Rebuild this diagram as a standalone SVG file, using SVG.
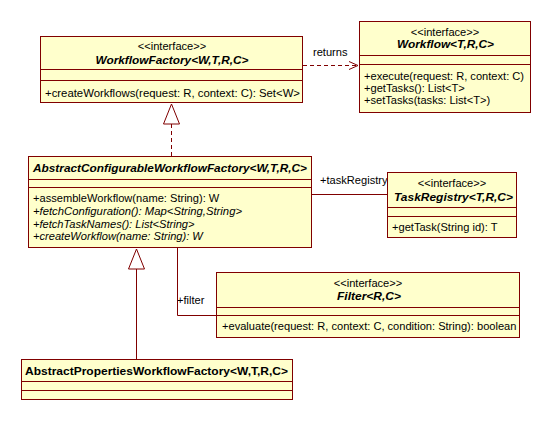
<svg xmlns="http://www.w3.org/2000/svg" width="552" height="421" viewBox="0 0 552 421">
<defs>
<style>
.box{fill:#FFFFCC;stroke:#800000;stroke-width:1}
.sep{stroke:#800000;stroke-width:1}
text{font-family:"Liberation Sans",Arial,sans-serif;font-size:11.1px;fill:#000}
.c{text-anchor:middle}
.t{font-weight:bold;font-style:italic;font-size:11.5px}
.b{font-weight:bold;font-size:11.5px}
.i{font-style:italic}
.ln{fill:none;stroke:#800000;stroke-width:1}
.dash{stroke-dasharray:4,3}
</style>
<marker id="open" markerWidth="12" markerHeight="10" refX="10" refY="5" orient="auto" markerUnits="userSpaceOnUse">
<path d="M1,1 L10,5 L1,9" fill="none" stroke="#800000" stroke-width="1"/>
</marker>
</defs>
<rect width="552" height="421" fill="#fff"/>
<g id="connectors">
<line class="ln dash" x1="303" y1="65.5" x2="358" y2="65.5" marker-end="url(#open)"/>
<text x="313" y="56">returns</text>
<line class="ln dash" x1="171.5" y1="124" x2="171.5" y2="156"/>
<path class="ln" d="M171.5,104 L163.5,124 L179.5,124 Z" fill="#fff"/>
<line class="ln" x1="312" y1="194.5" x2="387" y2="194.5"/>
<text x="320" y="184">+taskRegistry</text>
<path class="ln" d="M177.5,248 L177.5,315.5 L216,315.5"/>
<text x="177" y="304">+filter</text>
<line class="ln" x1="136.5" y1="269" x2="136.5" y2="359"/>
<path class="ln" d="M136.5,249 L128.5,269 L144.5,269 Z" fill="#fff"/>
</g>
<g id="WorkflowFactory">
<rect class="box" x="40.5" y="36.5" width="262" height="66"/>
<line class="sep" x1="40.5" y1="69.5" x2="302.5" y2="69.5"/>
<line class="sep" x1="40.5" y1="80.5" x2="302.5" y2="80.5"/>
<text class="c" x="172" y="50">&lt;&lt;interface&gt;&gt;</text>
<text class="c t" x="172" y="64" textLength="153" lengthAdjust="spacingAndGlyphs">WorkflowFactory&lt;W,T,R,C&gt;</text>
<text x="45" y="97" textLength="255" lengthAdjust="spacingAndGlyphs">+createWorkflows(request: R, context: C): Set&lt;W&gt;</text>
</g>
<g id="Workflow">
<rect class="box" x="359.5" y="21.5" width="171" height="91"/>
<line class="sep" x1="359.5" y1="55.5" x2="530.5" y2="55.5"/>
<line class="sep" x1="359.5" y1="64.5" x2="530.5" y2="64.5"/>
<text class="c" x="445" y="36">&lt;&lt;interface&gt;&gt;</text>
<text class="c t" x="445.5" y="48" textLength="97" lengthAdjust="spacingAndGlyphs">Workflow&lt;T,R,C&gt;</text>
<text x="364" y="80">+execute(request: R, context: C)</text>
<text x="364" y="92">+getTasks(): List&lt;T&gt;</text>
<text x="364" y="104">+setTasks(tasks: List&lt;T&gt;)</text>
</g>
<g id="AbstractConfigurableWorkflowFactory">
<rect class="box" x="28.5" y="156.5" width="283" height="91"/>
<line class="sep" x1="28.5" y1="179.5" x2="311.5" y2="179.5"/>
<line class="sep" x1="28.5" y1="187.5" x2="311.5" y2="187.5"/>
<text class="c t" x="170" y="172" textLength="274" lengthAdjust="spacingAndGlyphs">AbstractConfigurableWorkflowFactory&lt;W,T,R,C&gt;</text>
<text x="33" y="202">+assembleWorkflow(name: String): W</text>
<text class="i" x="33" y="215" textLength="209" lengthAdjust="spacingAndGlyphs">+fetchConfiguration(): Map&lt;String,String&gt;</text>
<text class="i" x="33" y="228">+fetchTaskNames(): List&lt;String&gt;</text>
<text class="i" x="33" y="240">+createWorkflow(name: String): W</text>
</g>
<g id="TaskRegistry">
<rect class="box" x="387.5" y="172.5" width="129" height="65"/>
<line class="sep" x1="387.5" y1="207.5" x2="516.5" y2="207.5"/>
<line class="sep" x1="387.5" y1="216.5" x2="516.5" y2="216.5"/>
<text class="c" x="452" y="187">&lt;&lt;interface&gt;&gt;</text>
<text class="c t" x="453.5" y="201" textLength="119" lengthAdjust="spacingAndGlyphs">TaskRegistry&lt;T,R,C&gt;</text>
<text x="392" y="231">+getTask(String id): T</text>
</g>
<g id="Filter">
<rect class="box" x="216.5" y="272.5" width="303" height="65"/>
<line class="sep" x1="216.5" y1="307.5" x2="519.5" y2="307.5"/>
<line class="sep" x1="216.5" y1="315.5" x2="519.5" y2="315.5"/>
<text class="c" x="368" y="287">&lt;&lt;interface&gt;&gt;</text>
<text class="c t" x="369" y="300" textLength="64" lengthAdjust="spacingAndGlyphs">Filter&lt;R,C&gt;</text>
<text x="222" y="330">+evaluate(request: R, context: C, condition: String): boolean</text>
</g>
<g id="AbstractPropertiesWorkflowFactory">
<rect class="box" x="21.5" y="359.5" width="271" height="40"/>
<line class="sep" x1="21.5" y1="381.5" x2="292.5" y2="381.5"/>
<line class="sep" x1="21.5" y1="390.5" x2="292.5" y2="390.5"/>
<text class="c b" x="156.5" y="375" textLength="263" lengthAdjust="spacingAndGlyphs">AbstractPropertiesWorkflowFactory&lt;W,T,R,C&gt;</text>
</g>
</svg>
